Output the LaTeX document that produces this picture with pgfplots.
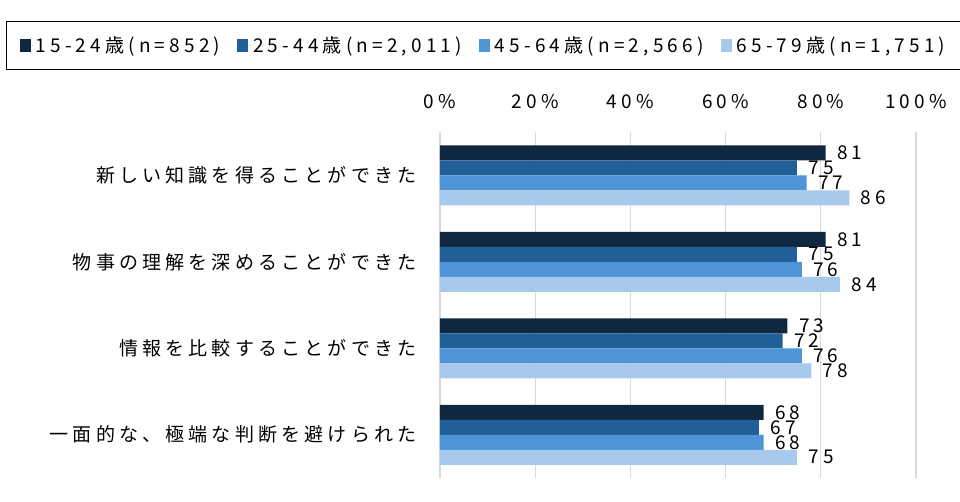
\documentclass[border=0pt]{standalone}
\usepackage{fontspec}
\setmainfont{Noto Sans CJK JP}[LetterSpace=22]
\usepackage{pgfplots}
\pgfplotsset{compat=1.18}
\definecolor{c1}{HTML}{10283F}
\definecolor{c2}{HTML}{215F99}
\definecolor{c3}{HTML}{4F94D6}
\definecolor{c4}{HTML}{A6C9EC}
\definecolor{gridc}{HTML}{D9D9D9}
\begin{document}
\fontsize{19bp}{22bp}\selectfont
\begin{tikzpicture}
\path[use as bounding box] (-440bp,-24bp) rectangle (520bp,478bp);
\begin{axis}[
  at={(0,0)}, anchor=south west,
  scale only axis, width=476bp, height=346bp,
  xbar, bar width=15bp,
  xmin=0, xmax=100,
  ymin=-0.5, ymax=3.5, y dir=reverse,
  ytick={0,1,2,3},
  yticklabels={新しい知識を得ることができた,物事の理解を深めることができた,情報を比較することができた,一面的な、極端な判断を避けられた},
  xtick={0,20,40,60,80,100},
  xticklabel={\pgfmathprintnumber{\tick}\%},
  xticklabel pos=upper,
  /pgf/number format/assume math mode=true,
  xticklabel style={yshift=17bp},
  yticklabel style={xshift=-17bp},
  major tick length=0pt,
  axis line style={draw=none},
  xmajorgrids, grid style={gridc, line width=1.3bp},
  nodes near coords,
  nodes near coords style={anchor=west, xshift=5bp, font=\fontsize{19bp}{22bp}\selectfont},
  every node near coord/.append style={/pgf/number format/assume math mode=true},
  legend columns=4,
  legend style={at={(0.0914,1.25)}, anchor=center, draw=black, line width=1.2bp,
    /tikz/every even column/.append style={column sep=15bp},
    inner xsep=13bp, inner ysep=13bp},
  legend cell align=left,
  legend image code/.code={\fill[#1,draw=none] (0bp,-6bp) rectangle (11bp,6bp); \path (0bp,0bp) -- (14bp,0bp);},
]
\addplot[fill=c1, draw=none, bar shift=22.5bp] coordinates {(81,0) (81,1) (73,2) (68,3)};
\addplot[fill=c2, draw=none, bar shift=7.5bp] coordinates {(75,0) (75,1) (72,2) (67,3)};
\addplot[fill=c3, draw=none, bar shift=-7.5bp] coordinates {(77,0) (76,1) (76,2) (68,3)};
\addplot[fill=c4, draw=none, bar shift=-22.5bp] coordinates {(86,0) (84,1) (78,2) (75,3)};
\legend{15-24歳(n=852),25-44歳(n=2{,}011),45-64歳(n=2{,}566),65-79歳(n=1{,}751)}
\end{axis}
\end{tikzpicture}
\end{document}
